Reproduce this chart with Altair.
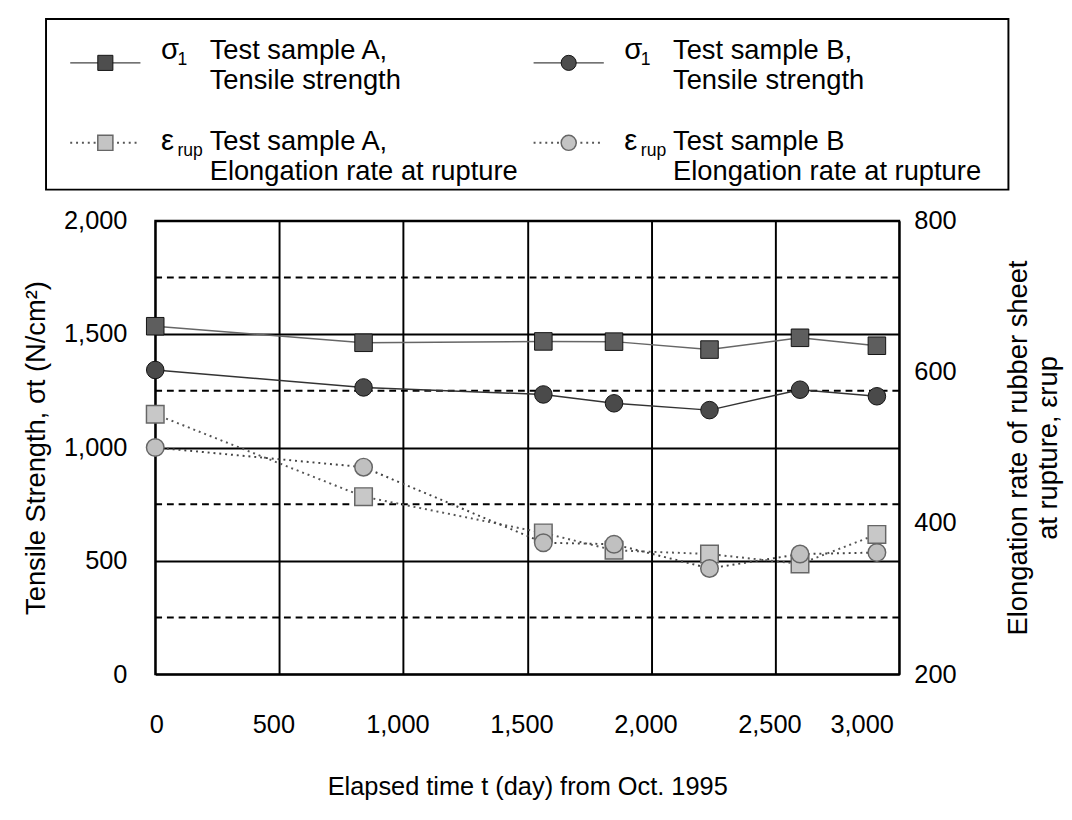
import altair as alt
import pandas as pd

# ---------------- data ----------------
days = [0, 840, 1565, 1850, 2235, 2600, 2910]
sigma_A = [1535, 1462, 1468, 1467, 1432, 1484, 1449]   # N/cm2 (left axis)
sigma_B = [1342, 1265, 1234, 1195, 1165, 1255, 1226]   # N/cm2 (left axis)
eps_A = [544, 435, 387, 364, 359, 346, 385]            # right axis
eps_B = [500, 474, 374, 372, 340, 359, 361]            # right axis

x_ticks = [0, 500, 1000, 1500, 2000, 2500, 3000]
y_left_ticks = [0, 500, 1000, 1500, 2000]
y_right_ticks = [200, 400, 600, 800]
minor_grid = [250, 750, 1250, 1750]

legend_col = [0, 1, 0, 1]
legend_row = [0, 0, 1, 1]
legend_shape = ["square", "circle", "square", "circle"]
legend_main = ["σ", "σ", "ε", "ε"]
legend_sub = ["1", "1", "rup", "rup"]
legend_line1 = ["Test sample A,", "Test sample B,", "Test sample A,", "Test sample B"]
legend_line2 = ["Tensile strength", "Tensile strength",
                "Elongation rate at rupture", "Elongation rate at rupture"]

FONT = "Liberation Sans"

# ---------------- tables ----------------
sig_df = pd.DataFrame({
    "t": days * 2,
    "v": sigma_A + sigma_B,
    "s": ["A"] * len(days) + ["B"] * len(days),
})
eps_df = pd.DataFrame({
    "t": days * 2,
    "v": eps_A + eps_B,
    "s": ["A"] * len(days) + ["B"] * len(days),
})
grid_df = pd.DataFrame({"v": minor_grid})
leg_df = pd.DataFrame({
    "col": legend_col, "row": legend_row, "shape": legend_shape,
    "main": legend_main, "sub": legend_sub,
    "line1": legend_line1, "line2": legend_line2,
})

# ---------------- main chart ----------------
x_enc = alt.X(
    "t:Q",
    scale=alt.Scale(domain=[0, 3000], nice=False),
    axis=alt.Axis(
        values=x_ticks, format=",d", ticks=False, tickSize=0, domain=False,
        labelFontSize=26, labelPadding=39, labelOffset=-6,
        labelFont=FONT, labelColor="black",
        grid=True, gridColor="black", gridWidth=2, gridOpacity=1,
        title="Elapsed time t (day) from Oct. 1995",
        titleFont=FONT, titleColor="black", titleFontWeight="normal",
        titleFontSize=26, titlePadding=37,
    ),
)

left_axis = alt.Axis(
    values=y_left_ticks, format=",d", ticks=False, tickSize=0, domain=False,
    labelFontSize=26, labelPadding=29, labelFont=FONT, labelColor="black",
    grid=True, gridColor="black", gridWidth=2, gridOpacity=1,
    title="Tensile Strength, σt (N/cm²)", titleFont=FONT, titleColor="black",
    titleFontWeight="normal", titleFontSize=28, titlePadding=14,
)
y_left = alt.Y("v:Q", scale=alt.Scale(domain=[0, 2000], nice=False), axis=left_axis)

right_axis = alt.Axis(
    orient="right", values=y_right_ticks, format="d", ticks=False, tickSize=0, domain=False,
    labelFontSize=26, labelPadding=15, labelFont=FONT, labelColor="black", grid=False,
    title=["Elongation rate of rubber sheet", "at rupture, εrup"],
    titleFont=FONT, titleColor="black", titleFontWeight="normal",
    titleFontSize=28, titlePadding=19, titleAngle=270, titleBaseline="top",
    titleLineHeight=31,
)
y_right = alt.Y("v:Q", scale=alt.Scale(domain=[200, 800], nice=False), axis=right_axis)

dashed = alt.Chart(grid_df).mark_rule(
    color="black", strokeWidth=2, strokeDash=[7, 5]
).encode(y=y_left)

sig_base = alt.Chart(sig_df).encode(x=x_enc, y=y_left)
line_sA = sig_base.transform_filter("datum.s == 'A'").mark_line(color="#666666", strokeWidth=1.5)
line_sB = sig_base.transform_filter("datum.s == 'B'").mark_line(color="#333333", strokeWidth=1.5)
pts_sA = sig_base.transform_filter("datum.s == 'A'").mark_point(
    shape="square", size=324, filled=True, fill="#5e5e5e", stroke="#111111", strokeWidth=1, opacity=1)
pts_sB = sig_base.transform_filter("datum.s == 'B'").mark_point(
    shape="circle", size=324, filled=True, fill="#4a4a4a", stroke="#111111", strokeWidth=1, opacity=1)

eps_base = alt.Chart(eps_df).encode(x=x_enc, y=y_right)
line_eA = eps_base.transform_filter("datum.s == 'A'").mark_line(
    color="#555555", strokeWidth=2, strokeDash=[2, 4])
line_eB = eps_base.transform_filter("datum.s == 'B'").mark_line(
    color="#444444", strokeWidth=2, strokeDash=[2, 4])
pts_eA = eps_base.transform_filter("datum.s == 'A'").mark_point(
    shape="square", size=324, filled=True, fill="#c8c8c8", stroke="#666666", strokeWidth=1.5, opacity=1)
pts_eB = eps_base.transform_filter("datum.s == 'B'").mark_point(
    shape="circle", size=324, filled=True, fill="#c0c0c0", stroke="#666666", strokeWidth=1.5, opacity=1)

left_group = alt.layer(dashed, line_sA, line_sB, pts_sA, pts_sB)
right_group = alt.layer(line_eA, line_eB, pts_eA, pts_eB)
main = alt.layer(left_group, right_group).resolve_scale(y="independent").properties(
    width=763, height=465)

# ---------------- legend panel ----------------
lx = alt.X("col:Q", scale=alt.Scale(domain=[-0.128, 1.949], nice=False, zero=False), axis=None)
ly = alt.Y("row:Q", scale=alt.Scale(domain=[-0.549, 1.585], nice=False, zero=False, reverse=True), axis=None)
lbase = alt.Chart(leg_df).encode(x=lx, y=ly)
row0 = lbase.transform_filter("datum.row == 0")
row1 = lbase.transform_filter("datum.row == 1")

leg_line_solid = row0.mark_point(
    shape="M-1,0L1,0", size=5184, filled=False, stroke="#444444", strokeWidth=1.5, opacity=1)
leg_line_dot = row1.mark_point(
    shape="M-1,0L1,0", size=5184, filled=False, stroke="#555555", strokeWidth=2, strokeDash=[2, 4], opacity=1)
leg_pts_dark = row0.mark_point(
    size=240, filled=True, fill="#4e4e4e", stroke="#111111", strokeWidth=1, opacity=1
).encode(shape=alt.Shape("shape:N", scale=None))
leg_pts_light = row1.mark_point(
    size=240, filled=True, fill="#c4c4c4", stroke="#666666", strokeWidth=1.5, opacity=1
).encode(shape=alt.Shape("shape:N", scale=None))


def text_layers(base, dy):
    main_t = base.mark_text(
        align="left", baseline="alphabetic", dx=57, dy=dy, fontSize=30, font=FONT, color="black"
    ).encode(text="main:N")
    sub_t = base.mark_text(
        align="left", baseline="alphabetic", dx=74, dy=dy + 6, fontSize=18, font=FONT, color="black"
    ).encode(text="sub:N")
    l1 = base.mark_text(
        align="left", baseline="alphabetic", dx=107, dy=dy, fontSize=28, font=FONT, color="black",
    ).encode(text="line1:N")
    l2 = base.mark_text(
        align="left", baseline="alphabetic", dx=107, dy=dy + 31, fontSize=28, font=FONT, color="black",
    ).encode(text="line2:N")
    return [main_t, sub_t, l1, l2]


legend = alt.layer(
    leg_line_solid, leg_line_dot, leg_pts_dark, leg_pts_light,
    *text_layers(row0, -4), *text_layers(row1, 7),
).properties(width=987, height=175)

chart = alt.vconcat(legend, main, spacing=32, center=True, bounds="flush").properties(
    padding={"left": 13, "top": 0, "right": 0, "bottom": 0}
).configure_view(
    stroke="black", strokeWidth=2
)

chart.save("out.html", embed_options={"renderer": "svg", "actions": False})
